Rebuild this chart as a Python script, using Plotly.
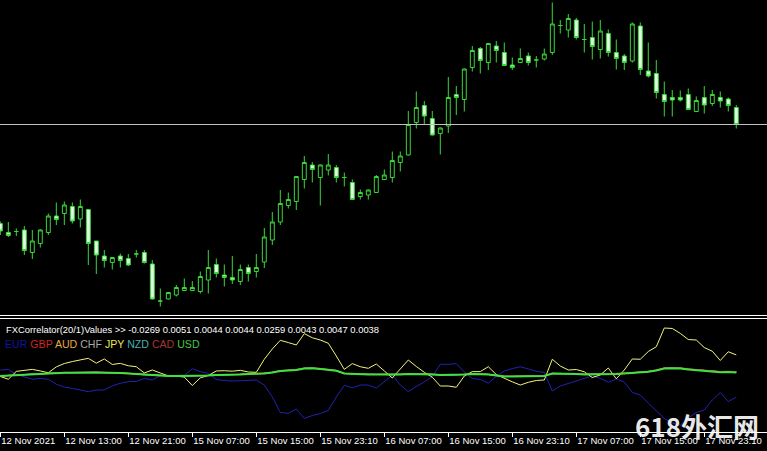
import plotly.graph_objects as go

# ---------------- price data (H1 candles) ----------------
OPEN = [114.553, 114.535, 114.537, 114.540, 114.495, 114.513, 114.535, 114.568, 114.573, 114.587,
        114.562, 114.581, 114.518, 114.488, 114.475, 114.488, 114.483, 114.492, 114.495, 114.472,
        114.398, 114.402, 114.410, 114.419, 114.419, 114.417, 114.440, 114.471, 114.450, 114.445,
        114.437, 114.465, 114.457, 114.476, 114.520, 114.556, 114.589, 114.597, 114.641, 114.670,
        114.645, 114.660, 114.665, 114.645, 114.635, 114.607, 114.610, 114.615, 114.641, 114.645,
        114.675, 114.690, 114.755, 114.789, 114.763, 114.733, 114.748, 114.811, 114.801, 114.865,
        114.903, 114.875, 114.908, 114.895, 114.870, 114.875, 114.888, 114.880, 114.882, 114.895,
        114.949, 114.940, 114.960, 114.921, 114.925, 114.901, 114.933, 114.895, 114.888, 114.878,
        114.948, 114.858, 114.853, 114.811, 114.805, 114.805, 114.811, 114.777, 114.805, 114.793,
        114.805, 114.802, 114.785]
HIGH = [114.557, 114.556, 114.543, 114.548, 114.540, 114.542, 114.573, 114.595, 114.597, 114.595,
        114.601, 114.582, 114.518, 114.500, 114.485, 114.493, 114.492, 114.500, 114.500, 114.480,
        114.423, 114.416, 114.430, 114.443, 114.438, 114.457, 114.500, 114.483, 114.471, 114.488,
        114.471, 114.471, 114.492, 114.544, 114.576, 114.620, 114.615, 114.648, 114.688, 114.676,
        114.671, 114.692, 114.670, 114.655, 114.641, 114.621, 114.621, 114.650, 114.661, 114.697,
        114.697, 114.778, 114.817, 114.798, 114.778, 114.745, 114.846, 114.828, 114.863, 114.908,
        114.906, 114.914, 114.918, 114.915, 114.885, 114.903, 114.895, 114.888, 114.903, 114.995,
        114.960, 114.972, 114.964, 114.952, 114.957, 114.960, 114.941, 114.921, 114.892, 114.955,
        114.955, 114.915, 114.880, 114.837, 114.820, 114.819, 114.823, 114.807, 114.828, 114.820,
        114.817, 114.805, 114.790]
LOW = [114.530, 114.526, 114.528, 114.490, 114.482, 114.505, 114.530, 114.550, 114.550, 114.553,
       114.545, 114.470, 114.452, 114.465, 114.461, 114.465, 114.468, 114.485, 114.473, 114.401,
       114.387, 114.401, 114.407, 114.418, 114.418, 114.413, 114.413, 114.445, 114.427, 114.432,
       114.430, 114.437, 114.445, 114.464, 114.510, 114.550, 114.583, 114.580, 114.623, 114.635,
       114.589, 114.649, 114.635, 114.627, 114.600, 114.601, 114.601, 114.614, 114.640, 114.635,
       114.657, 114.689, 114.743, 114.752, 114.729, 114.691, 114.734, 114.770, 114.777, 114.857,
       114.853, 114.860, 114.875, 114.868, 114.860, 114.874, 114.869, 114.865, 114.879, 114.890,
       114.933, 114.925, 114.921, 114.895, 114.881, 114.883, 114.887, 114.861, 114.860, 114.875,
       114.850, 114.845, 114.803, 114.767, 114.767, 114.797, 114.780, 114.776, 114.773, 114.788,
       114.785, 114.777, 114.743]
CLOSE = [114.538, 114.529, 114.537, 114.499, 114.518, 114.540, 114.568, 114.561, 114.590, 114.558,
         114.587, 114.513, 114.490, 114.479, 114.485, 114.479, 114.470, 114.492, 114.475, 114.402,
         114.398, 114.415, 114.425, 114.425, 114.425, 114.447, 114.465, 114.453, 114.445, 114.440,
         114.461, 114.453, 114.465, 114.526, 114.556, 114.593, 114.601, 114.647, 114.675, 114.661,
         114.670, 114.670, 114.645, 114.645, 114.601, 114.615, 114.620, 114.647, 114.650, 114.679,
         114.688, 114.751, 114.785, 114.768, 114.730, 114.744, 114.805, 114.805, 114.862, 114.899,
         114.879, 114.913, 114.899, 114.869, 114.865, 114.883, 114.875, 114.880, 114.892, 114.952,
         114.949, 114.963, 114.925, 114.921, 114.907, 114.938, 114.895, 114.883, 114.875, 114.952,
         114.861, 114.848, 114.815, 114.797, 114.800, 114.800, 114.781, 114.799, 114.790, 114.811,
         114.798, 114.789, 114.751]

TICK_POS = [0, 8, 16, 24, 32, 40, 48, 56, 64, 72, 80, 88]
TICK_LABELS = ["12 Nov 2021", "12 Nov 13:00", "12 Nov 21:00", "15 Nov 07:00", "15 Nov 15:00",
               "15 Nov 23:10", "16 Nov 07:00", "16 Nov 15:00", "16 Nov 23:10", "17 Nov 07:00",
               "17 Nov 15:00", "17 Nov 23:10"]

# ---------------- FXCorrelator(20/1) values ----------------
CURRENCIES = ["EUR", "GBP", "AUD", "CHF", "JPY", "NZD", "CAD", "USD"]
EUR = [0.0070, 0.0076, 0.0014, -0.0011, -0.0045, -0.0036, -0.0046, -0.0108, -0.0143, -0.0160,
       -0.0180, -0.0201, -0.0180, -0.0180, -0.0128, -0.0096, -0.0076, -0.0074, -0.0036, -0.0055,
       0.0000, -0.0010, -0.0004, 0.0003, 0.0085, 0.0049, 0.0029, -0.0049, -0.0061, -0.0068,
       -0.0064, -0.0064, -0.0055, -0.0118, -0.0268, -0.0461, -0.0471, -0.0418, -0.0535, -0.0499,
       -0.0474, -0.0436, -0.0268, -0.0121, -0.0153, -0.0118, -0.0118, -0.0156, -0.0080, 0.0004,
       -0.0118, -0.0201, -0.0136, -0.0080, -0.0013, 0.0141, 0.0141, 0.0150, 0.0045, -0.0038,
       -0.0046, -0.0096, -0.0011, 0.0058, 0.0088, 0.0110, 0.0083, 0.0054, 0.0039, -0.0193,
       -0.0130, -0.0099, -0.0068, -0.0036, -0.0003, -0.0034, -0.0084, -0.0043, -0.0080, -0.0211,
       -0.0243, -0.0343, -0.0443, -0.0536, -0.0593, -0.0618, -0.0530, -0.0461, -0.0430, -0.0305,
       -0.0211, -0.0324, -0.0269]
GBP = [-0.0003, 0.0003, 0.0010, 0.0016, 0.0022, 0.0028, 0.0029, 0.0036, 0.0040, 0.0041,
       0.0044, 0.0045, 0.0046, 0.0043, 0.0042, 0.0038, 0.0030, 0.0023, 0.0010, 0.0010,
       0.0003, -0.0003, -0.0003, -0.0004, -0.0004, 0.0002, 0.0003, 0.0010, 0.0010, 0.0016,
       0.0016, 0.0022, 0.0022, 0.0029, 0.0043, 0.0063, 0.0070, 0.0077, 0.0096, 0.0098,
       0.0090, 0.0076, 0.0066, 0.0030, 0.0023, 0.0023, 0.0017, 0.0017, 0.0017, 0.0011,
       0.0018, 0.0025, 0.0026, 0.0025, 0.0018, 0.0011, 0.0011, 0.0011, 0.0017, 0.0023,
       0.0023, 0.0017, 0.0004, -0.0008, -0.0008, -0.0008, -0.0008, -0.0002, -0.0002, 0.0029,
       0.0030, 0.0024, 0.0024, 0.0019, 0.0020, 0.0020, 0.0023, 0.0024, 0.0030, 0.0038,
       0.0045, 0.0055, 0.0072, 0.0098, 0.0101, 0.0099, 0.0085, 0.0075, 0.0069, 0.0060,
       0.0052, 0.0054, 0.0051]
AUD = [-0.0004, 0.0002, 0.0009, 0.0015, 0.0021, 0.0027, 0.0027, 0.0034, 0.0037, 0.0037,
       0.0040, 0.0040, 0.0040, 0.0037, 0.0037, 0.0034, 0.0027, 0.0021, 0.0009, 0.0009,
       0.0002, -0.0004, -0.0004, -0.0004, -0.0004, 0.0002, 0.0002, 0.0009, 0.0009, 0.0015,
       0.0015, 0.0021, 0.0021, 0.0027, 0.0040, 0.0059, 0.0065, 0.0071, 0.0090, 0.0092,
       0.0084, 0.0071, 0.0062, 0.0027, 0.0021, 0.0021, 0.0015, 0.0015, 0.0015, 0.0009,
       0.0015, 0.0021, 0.0021, 0.0021, 0.0015, 0.0009, 0.0009, 0.0009, 0.0015, 0.0021,
       0.0021, 0.0015, 0.0002, -0.0010, -0.0010, -0.0010, -0.0010, -0.0004, -0.0004, 0.0027,
       0.0027, 0.0021, 0.0021, 0.0015, 0.0015, 0.0015, 0.0019, 0.0021, 0.0027, 0.0034,
       0.0040, 0.0050, 0.0066, 0.0092, 0.0094, 0.0092, 0.0079, 0.0070, 0.0064, 0.0056,
       0.0048, 0.0050, 0.0044]
CHF = [-0.0005, 0.0002, 0.0008, 0.0015, 0.0021, 0.0026, 0.0027, 0.0034, 0.0037, 0.0037,
       0.0040, 0.0040, 0.0041, 0.0037, 0.0037, 0.0034, 0.0027, 0.0021, 0.0009, 0.0009,
       0.0002, -0.0004, -0.0005, -0.0004, -0.0004, 0.0002, 0.0002, 0.0009, 0.0009, 0.0015,
       0.0015, 0.0021, 0.0021, 0.0027, 0.0040, 0.0059, 0.0066, 0.0072, 0.0091, 0.0093,
       0.0085, 0.0072, 0.0062, 0.0027, 0.0021, 0.0021, 0.0015, 0.0015, 0.0015, 0.0009,
       0.0015, 0.0021, 0.0022, 0.0021, 0.0015, 0.0009, 0.0009, 0.0009, 0.0015, 0.0021,
       0.0021, 0.0015, 0.0002, -0.0010, -0.0010, -0.0010, -0.0010, -0.0004, -0.0004, 0.0027,
       0.0027, 0.0021, 0.0021, 0.0016, 0.0016, 0.0016, 0.0019, 0.0021, 0.0027, 0.0034,
       0.0041, 0.0050, 0.0066, 0.0092, 0.0095, 0.0093, 0.0080, 0.0070, 0.0064, 0.0056,
       0.0048, 0.0050, 0.0044]
JPY = [-0.0011, -0.0046, 0.0053, 0.0063, 0.0078, 0.0058, 0.0035, 0.0109, 0.0151, 0.0176,
       0.0195, 0.0216, 0.0155, 0.0208, 0.0139, 0.0153, 0.0123, 0.0111, 0.0033, 0.0070,
       0.0033, -0.0005, -0.0008, -0.0018, -0.0124, -0.0028, 0.0001, 0.0058, 0.0061, 0.0055,
       0.0066, 0.0045, 0.0041, 0.0204, 0.0333, 0.0441, 0.0413, 0.0383, 0.0525, 0.0473,
       0.0445, 0.0404, 0.0245, 0.0078, 0.0150, 0.0111, 0.0091, 0.0145, 0.0058, -0.0030,
       0.0083, 0.0195, 0.0114, 0.0041, -0.0020, -0.0130, -0.0130, -0.0146, -0.0005, 0.0049,
       0.0050, 0.0111, 0.0013, -0.0036, -0.0078, -0.0118, -0.0084, -0.0061, -0.0055, 0.0204,
       0.0120, 0.0070, 0.0076, 0.0048, -0.0024, 0.0008, 0.0095, -0.0040, 0.0070, 0.0208,
       0.0204, 0.0301, 0.0360, 0.0595, 0.0589, 0.0528, 0.0451, 0.0445, 0.0351, 0.0305,
       0.0189, 0.0298, 0.0259]
NZD = [-0.0005, 0.0001, 0.0008, 0.0014, 0.0021, 0.0026, 0.0026, 0.0033, 0.0037, 0.0037,
       0.0040, 0.0040, 0.0040, 0.0037, 0.0036, 0.0033, 0.0026, 0.0021, 0.0008, 0.0008,
       0.0001, -0.0005, -0.0005, -0.0005, -0.0005, 0.0001, 0.0001, 0.0008, 0.0008, 0.0014,
       0.0014, 0.0021, 0.0021, 0.0026, 0.0040, 0.0059, 0.0065, 0.0071, 0.0090, 0.0092,
       0.0084, 0.0071, 0.0062, 0.0026, 0.0021, 0.0021, 0.0014, 0.0014, 0.0014, 0.0008,
       0.0014, 0.0021, 0.0021, 0.0021, 0.0014, 0.0008, 0.0008, 0.0008, 0.0014, 0.0021,
       0.0021, 0.0014, 0.0001, -0.0011, -0.0011, -0.0011, -0.0011, -0.0005, -0.0005, 0.0026,
       0.0026, 0.0021, 0.0021, 0.0015, 0.0015, 0.0015, 0.0019, 0.0021, 0.0027, 0.0034,
       0.0040, 0.0049, 0.0066, 0.0091, 0.0093, 0.0091, 0.0078, 0.0069, 0.0063, 0.0055,
       0.0047, 0.0049, 0.0043]
CAD = [-0.0003, 0.0003, 0.0010, 0.0016, 0.0022, 0.0028, 0.0028, 0.0035, 0.0039, 0.0039,
       0.0042, 0.0043, 0.0043, 0.0040, 0.0039, 0.0036, 0.0029, 0.0022, 0.0010, 0.0010,
       0.0003, -0.0003, -0.0003, -0.0003, -0.0003, 0.0003, 0.0003, 0.0010, 0.0010, 0.0016,
       0.0016, 0.0022, 0.0022, 0.0028, 0.0042, 0.0061, 0.0068, 0.0074, 0.0094, 0.0096,
       0.0088, 0.0074, 0.0064, 0.0028, 0.0022, 0.0022, 0.0016, 0.0016, 0.0016, 0.0010,
       0.0016, 0.0023, 0.0023, 0.0023, 0.0016, 0.0010, 0.0010, 0.0010, 0.0016, 0.0022,
       0.0022, 0.0016, 0.0003, -0.0009, -0.0009, -0.0009, -0.0009, -0.0003, -0.0003, 0.0028,
       0.0028, 0.0022, 0.0022, 0.0017, 0.0017, 0.0017, 0.0021, 0.0023, 0.0029, 0.0036,
       0.0043, 0.0052, 0.0069, 0.0095, 0.0097, 0.0095, 0.0082, 0.0073, 0.0067, 0.0059,
       0.0051, 0.0053, 0.0047]
USD = [-0.0005, 0.0001, 0.0008, 0.0014, 0.0020, 0.0026, 0.0026, 0.0033, 0.0036, 0.0036,
       0.0039, 0.0039, 0.0039, 0.0036, 0.0036, 0.0033, 0.0026, 0.0020, 0.0008, 0.0008,
       0.0001, -0.0005, -0.0005, -0.0005, -0.0005, 0.0001, 0.0001, 0.0008, 0.0008, 0.0014,
       0.0014, 0.0020, 0.0020, 0.0026, 0.0039, 0.0058, 0.0064, 0.0070, 0.0089, 0.0091,
       0.0083, 0.0070, 0.0061, 0.0026, 0.0020, 0.0020, 0.0014, 0.0014, 0.0014, 0.0008,
       0.0014, 0.0020, 0.0020, 0.0020, 0.0014, 0.0008, 0.0008, 0.0008, 0.0014, 0.0020,
       0.0020, 0.0014, 0.0001, -0.0011, -0.0011, -0.0011, -0.0011, -0.0005, -0.0005, 0.0026,
       0.0026, 0.0020, 0.0020, 0.0014, 0.0014, 0.0014, 0.0018, 0.0020, 0.0026, 0.0033,
       0.0039, 0.0048, 0.0064, 0.0089, 0.0091, 0.0089, 0.0076, 0.0066, 0.0060, 0.0051,
       0.0043, 0.0045, 0.0038]

SERIES = {"EUR": EUR, "GBP": GBP, "AUD": AUD, "CHF": CHF, "JPY": JPY, "NZD": NZD, "CAD": CAD, "USD": USD}
LINE_COLORS = {"EUR": "#2222b4", "GBP": "#d42020", "AUD": "#e8a040", "CHF": "#a0a0a0",
               "JPY": "#f4f478", "NZD": "#40a8a8", "CAD": "#a83030", "USD": "#40e040"}
TEXT_COLORS = {"EUR": "#12129c", "GBP": "#d42424", "AUD": "#e8a848", "CHF": "#a8a8a8",
               "JPY": "#e8e850", "NZD": "#48b0b0", "CAD": "#a83434", "USD": "#44c844"}

# ---------------- figure ----------------
W, H = 767, 451
FONT = "Liberation Sans, Arial, sans-serif"
CANDLE = "#38d838"


def py(pix):
    return 1 - pix / H


x = list(range(len(OPEN)))

fig = go.Figure()
fig.add_trace(go.Candlestick(
    x=x, open=OPEN, high=HIGH, low=LOW, close=CLOSE,
    increasing=dict(line=dict(color=CANDLE, width=1), fillcolor="#000000"),
    decreasing=dict(line=dict(color=CANDLE, width=1), fillcolor="#e4ffe4"),
    whiskerwidth=0, xaxis="x", yaxis="y", showlegend=False, hoverinfo="skip"))

draw_order = ["GBP", "AUD", "CHF", "NZD", "CAD", "EUR", "JPY", "USD"]
for cur in draw_order:
    fig.add_trace(go.Scatter(
        x=x, y=SERIES[cur], mode="lines", name=cur, xaxis="x", yaxis="y2",
        line=dict(color=LINE_COLORS[cur], width=2 if cur == "USD" else 1),
        showlegend=False, hoverinfo="skip"))

info = "FXCorrelator(20/1)Values >> " + " ".join(f"{SERIES[c][-1]:.4f}" for c in CURRENCIES)
legend_text = " ".join(f'<span style="color:{TEXT_COLORS[c]}">{c}</span>' for c in CURRENCIES)

fig.update_layout(
    width=W, height=H,
    margin=dict(l=0, r=0, t=0, b=0, autoexpand=False),
    paper_bgcolor="#000000", plot_bgcolor="#000000",
    xaxis=dict(domain=[0, 1], range=[-0.04, 95.84], anchor="y2", automargin=False,
               showline=True, linecolor="#ffffff", linewidth=1, mirror=False,
               ticks="outside", ticklen=4, tickcolor="#ffffff", tickwidth=1, tickangle=0,
               tickvals=TICK_POS, ticktext=TICK_LABELS, ticklabelposition="outside right",
               tickfont=dict(family=FONT, size=9.5, color="#ffffff"),
               showgrid=False, zeroline=False, rangeslider=dict(visible=False)),
    yaxis=dict(domain=[py(315), 1], range=[114.370, 115.000], visible=False,
               showgrid=False, zeroline=False),
    yaxis2=dict(domain=[py(432), py(319)], range=[-0.0705, 0.07075], visible=False,
                showgrid=False, zeroline=False),
    shapes=[
        dict(type="line", xref="paper", x0=0, x1=1, yref="y", y0=CLOSE[-1], y1=CLOSE[-1],
             line=dict(color="#c0c0c0", width=1)),
        dict(type="line", xref="paper", x0=0, x1=1, yref="paper", y0=py(315.5), y1=py(315.5),
             line=dict(color="#ffffff", width=1)),
        dict(type="line", xref="paper", x0=0, x1=1, yref="paper", y0=py(318.5), y1=py(318.5),
             line=dict(color="#ffffff", width=1)),
    ],
    annotations=[
        dict(text=info, xref="paper", yref="paper", x=4 / W, y=py(329.5),
             xanchor="left", yanchor="middle", showarrow=False,
             font=dict(family=FONT, size=9.4, color="#ffffff")),
        dict(text=legend_text, xref="paper", yref="paper", x=3 / W, y=py(344),
             xanchor="left", yanchor="middle", showarrow=False,
             font=dict(family=FONT, size=10.6, color="#ffffff")),
        dict(text="<b>618外汇网</b>", xref="paper", yref="paper", x=697 / W, y=py(425),
             xanchor="center", yanchor="middle", showarrow=False,
             font=dict(family="Noto Sans CJK SC", size=26, color="rgba(255,255,255,0.92)")),
    ],
)

fig.write_html("out.html",
               config={"displayModeBar": False},
               post_script="document.body.style.margin='0';document.body.style.padding='0';"
                           "document.body.style.overflow='hidden';")
